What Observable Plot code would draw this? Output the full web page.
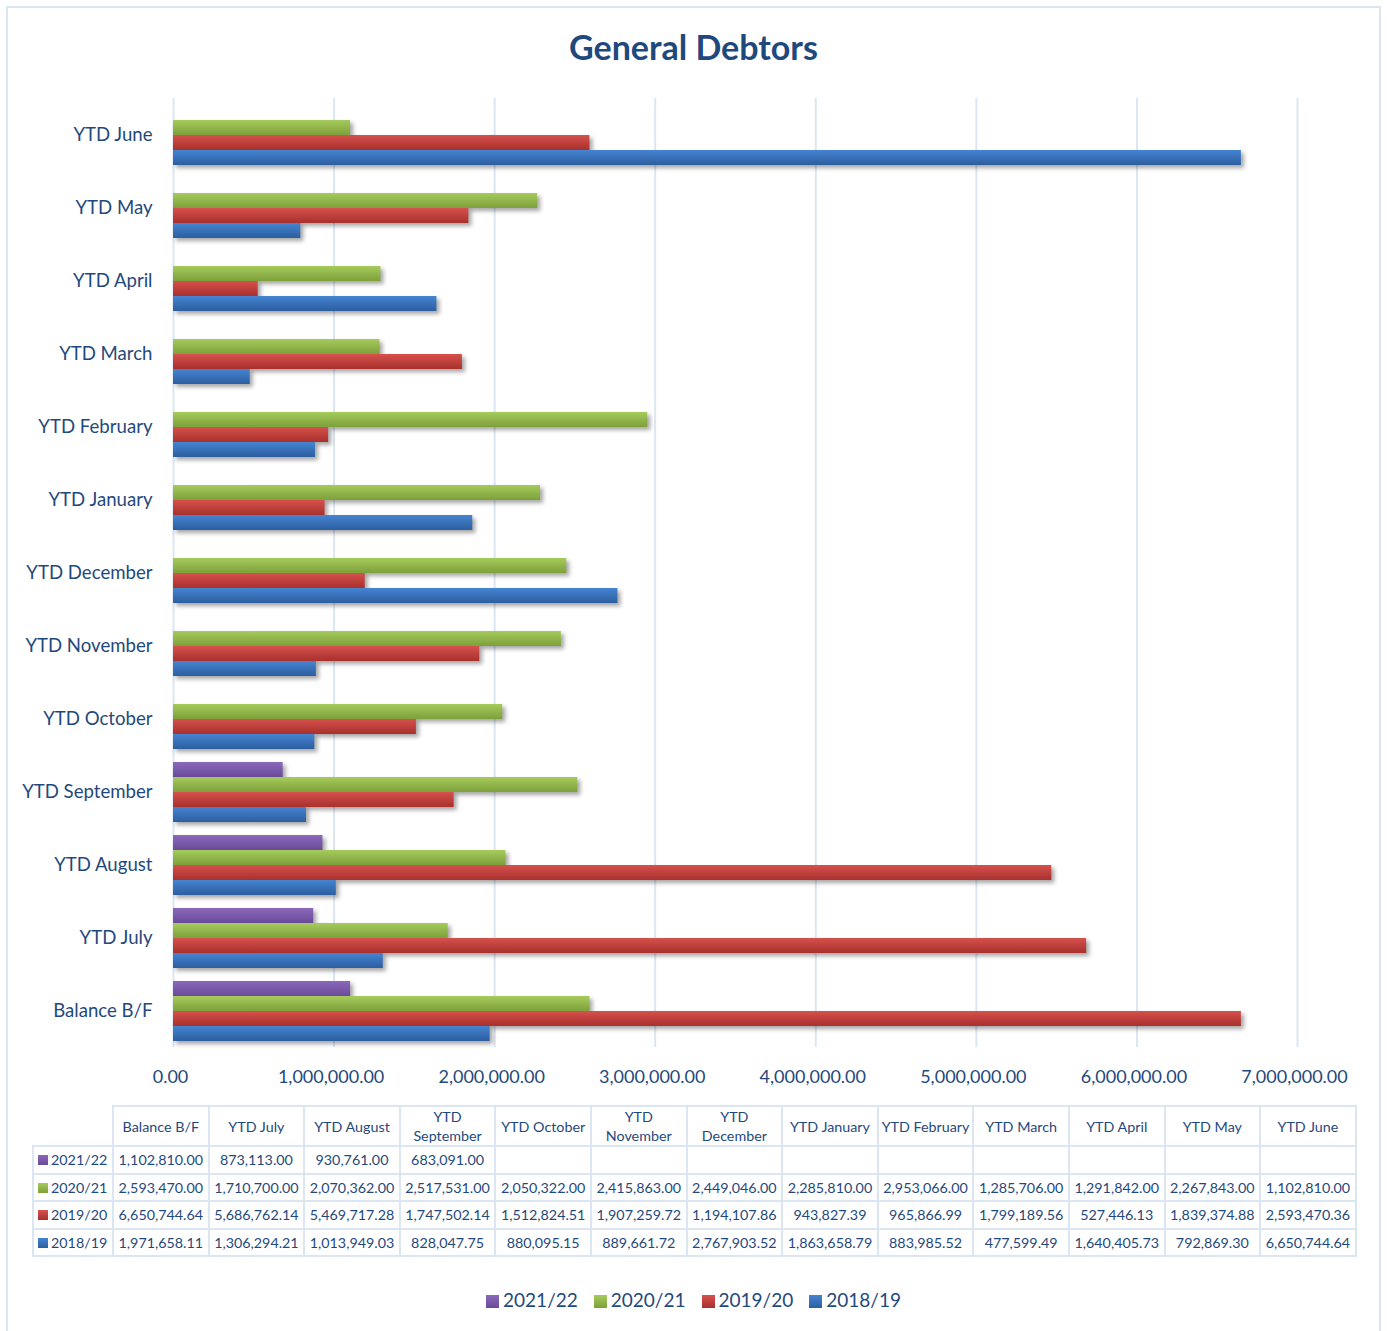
<!DOCTYPE html>
<html>
<head>
<meta charset="utf-8">
<script src="https://cdn.jsdelivr.net/npm/d3@7"></script>
<script src="https://cdn.jsdelivr.net/npm/@observablehq/plot@0.6"></script>
<style>
  html, body { margin: 0; padding: 0; background: #fff; }
  body { width: 1387px; height: 1331px; overflow: hidden; font-family: Lato, "Open Sans", sans-serif; color: #1F497D; }
  #wrap { position: relative; width: 1387px; height: 1331px; }
  #frame { position: absolute; left: 6px; top: 6px; width: 1375px; height: 1340px; border: 2px solid #DCE6F2; box-sizing: border-box; }
  #title { position: absolute; left: 0; width: 1387px; top: 27px; text-align: center; font-weight: bold; font-size: 34px; line-height: 40px; color: #1F497D; }
  #chart { position: absolute; left: 0; top: 0; }
  #tbl { position: absolute; left: 32px; top: 1105px; border-collapse: collapse; table-layout: fixed; font-size: 14.3px; color: #1F497D; }
  #tbl td, #tbl th { border: 2px solid #DCE6F2; text-align: center; padding: 0 2px; white-space: nowrap; font-weight: normal; }
  #tbl th { height: 37px; line-height: 19px; white-space: normal; }
  #tbl td { height: 25.5px; }
  #tbl th.corner { border: none; }
  #tbl td.key { text-align: left; padding-left: 4px; }
  .sw { display: inline-block; width: 10px; height: 10px; margin-right: 3px; vertical-align: 0px; }
  #legend { position: absolute; left: 0; width: 1387px; top: 1289px; text-align: center; font-size: 19px; line-height: 22px; color: #1F497D; }
  #legend span.item { margin: 0 8px; white-space: nowrap; }
  #legend .sw { width: 13px; height: 13px; margin-right: 4px; vertical-align: -1px; }
</style>
</head>
<body>
<div id="wrap">
  <div id="frame"></div>
  <div id="chart"></div>
  <div id="title">General Debtors</div>
  <table id="tbl"></table>
  <div id="legend"></div>
</div>
<script>
// ---------- data ----------
const categories = ["Balance B/F", "YTD July", "YTD August", "YTD September", "YTD October", "YTD November", "YTD December", "YTD January", "YTD February", "YTD March", "YTD April", "YTD May", "YTD June"];
const tableHeaders = ["Balance B/F", "YTD July", "YTD August", "YTD September", "YTD October", "YTD November", "YTD December", "YTD January", "YTD February", "YTD March", "YTD April", "YTD May", "YTD June"];
const seriesNames = ["2021/22", "2020/21", "2019/20", "2018/19"];
const values2021_22 = [1102810.00, 873113.00, 930761.00, 683091.00, null, null, null, null, null, null, null, null, null];
const values2020_21 = [2593470.00, 1710700.00, 2070362.00, 2517531.00, 2050322.00, 2415863.00, 2449046.00, 2285810.00, 2953066.00, 1285706.00, 1291842.00, 2267843.00, 1102810.00];
const values2019_20 = [6650744.64, 5686762.14, 5469717.28, 1747502.14, 1512824.51, 1907259.72, 1194107.86, 943827.39, 965866.99, 1799189.56, 527446.13, 1839374.88, 2593470.36];
const values2018_19 = [1971658.11, 1306294.21, 1013949.03, 828047.75, 880095.15, 889661.72, 2767903.52, 1863658.79, 883985.52, 477599.49, 1640405.73, 792869.30, 6650744.64];
const xTicks = [0, 1000000, 2000000, 3000000, 4000000, 5000000, 6000000, 7000000];
const seriesColors = {
  "2021/22": ["#8A69BC", "#6A4A98"],
  "2020/21": ["#A6CB5C", "#7DA03A"],
  "2019/20": ["#D6514C", "#A8302D"],
  "2018/19": ["#4584D2", "#2C5E9F"]
};

const seriesValues = [values2021_22, values2020_21, values2019_20, values2018_19];
const data = [];
seriesNames.forEach((s, si) => {
  categories.forEach((c, ci) => {
    const v = seriesValues[si][ci];
    if (v != null) data.push({category: c, series: s, value: v});
  });
});

const fmt = d3.format(",.2f");
const gradId = s => "grad" + s.replace("/", "_");

// ---------- chart ----------
const chart = Plot.plot({
  width: 1387,
  height: 1093,
  marginLeft: 173,
  marginRight: 90,
  marginTop: 97,
  marginBottom: 45,
  style: {fontFamily: "Lato, 'Open Sans', sans-serif", color: "#1F497D", background: "transparent"},
  x: {domain: [0, 7000000]},
  fy: {domain: categories.slice().reverse(), paddingInner: 0, paddingOuter: 0},
  y: {domain: seriesNames, paddingInner: 0, paddingOuter: 0.42, axis: null},
  color: {type: "ordinal", domain: seriesNames, range: seriesNames.map(s => `url(#${gradId(s)})`)},
  marks: [
    Plot.gridX(xTicks, {stroke: "#DCE6F2", strokeOpacity: 1, strokeWidth: 2}),
    Plot.barX(data, {
      x: "value",
      y: "series",
      fy: "category",
      fill: "series",
      inset: 0,
      imageFilter: "drop-shadow(3px 3px 2px rgba(0,0,0,0.35))"
    }),
    Plot.axisFy({anchor: "left", tickSize: 0, tickPadding: 21, fontSize: 18.6, label: null, fill: "#1F497D"}),
    Plot.axisX(xTicks, {anchor: "bottom", tickSize: 0, tickPadding: 23, fontSize: 18, dx: -3, label: null, tickFormat: fmt, fill: "#1F497D"})
  ]
});

// gradient defs
const defs = d3.select(chart).insert("defs", ":first-child");
seriesNames.forEach(s => {
  const g = defs.append("linearGradient").attr("id", gradId(s)).attr("x1", 0).attr("y1", 0).attr("x2", 0).attr("y2", 1);
  g.append("stop").attr("offset", "0%").attr("stop-color", seriesColors[s][0]);
  g.append("stop").attr("offset", "100%").attr("stop-color", seriesColors[s][1]);
});
document.getElementById("chart").appendChild(chart);

// ---------- data table ----------
const tbl = d3.select("#tbl");
const cols = tbl.append("colgroup");
cols.append("col").style("width", "80px");
tableHeaders.forEach(() => cols.append("col").style("width", "95.6px"));
const head = tbl.append("tr");
head.append("th").attr("class", "corner");
tableHeaders.forEach(h => {
  const parts = h === "YTD September" || h === "YTD November" || h === "YTD December" ? h.split(" ") : [h];
  const th = head.append("th");
  parts.forEach((p, i) => { if (i) th.append("br"); th.append("span").text(p); });
});
seriesNames.forEach((s, si) => {
  const tr = tbl.append("tr");
  const key = tr.append("td").attr("class", "key");
  key.append("span").attr("class", "sw").style("background", `linear-gradient(${seriesColors[s][0]}, ${seriesColors[s][1]})`);
  key.append("span").text(s);
  seriesValues[si].forEach(v => tr.append("td").text(v == null ? "" : fmt(v)));
});

// ---------- legend ----------
const lg = d3.select("#legend");
seriesNames.forEach(s => {
  const it = lg.append("span").attr("class", "item");
  it.append("span").attr("class", "sw").style("background", `linear-gradient(${seriesColors[s][0]}, ${seriesColors[s][1]})`);
  it.append("span").text(s);
});
</script>
</body>
</html>
